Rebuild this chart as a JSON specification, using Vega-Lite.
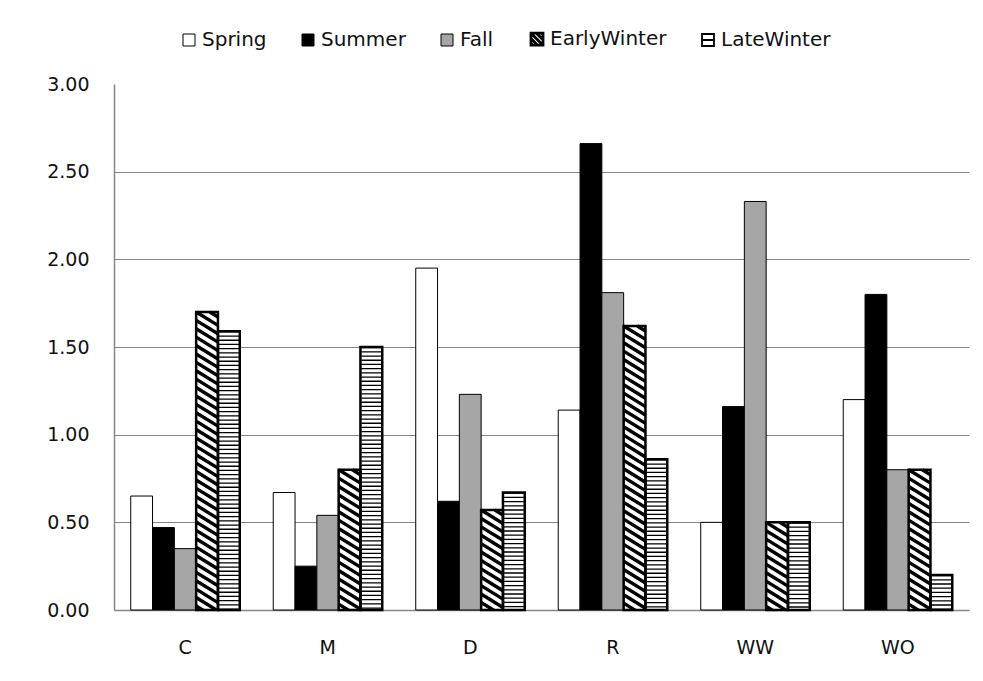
{
  "$schema": "https://vega.github.io/schema/vega-lite/v6.json",
  "width": 855,
  "height": 526,
  "autosize": {"type": "none"},
  "padding": {"left": 114, "top": 84, "right": 14, "bottom": 71},
  "background": "white",
  "data": {
    "values": [
      {"cat": "C", "series": "Spring", "value": 0.65},
      {"cat": "C", "series": "Summer", "value": 0.47},
      {"cat": "C", "series": "Fall", "value": 0.35},
      {"cat": "C", "series": "EarlyWinter", "value": 1.70},
      {"cat": "C", "series": "LateWinter", "value": 1.59},
      {"cat": "M", "series": "Spring", "value": 0.67},
      {"cat": "M", "series": "Summer", "value": 0.25},
      {"cat": "M", "series": "Fall", "value": 0.54},
      {"cat": "M", "series": "EarlyWinter", "value": 0.80},
      {"cat": "M", "series": "LateWinter", "value": 1.50},
      {"cat": "D", "series": "Spring", "value": 1.95},
      {"cat": "D", "series": "Summer", "value": 0.62},
      {"cat": "D", "series": "Fall", "value": 1.23},
      {"cat": "D", "series": "EarlyWinter", "value": 0.57},
      {"cat": "D", "series": "LateWinter", "value": 0.67},
      {"cat": "R", "series": "Spring", "value": 1.14},
      {"cat": "R", "series": "Summer", "value": 2.66},
      {"cat": "R", "series": "Fall", "value": 1.81},
      {"cat": "R", "series": "EarlyWinter", "value": 1.62},
      {"cat": "R", "series": "LateWinter", "value": 0.86},
      {"cat": "WW", "series": "Spring", "value": 0.50},
      {"cat": "WW", "series": "Summer", "value": 1.16},
      {"cat": "WW", "series": "Fall", "value": 2.33},
      {"cat": "WW", "series": "EarlyWinter", "value": 0.50},
      {"cat": "WW", "series": "LateWinter", "value": 0.50},
      {"cat": "WO", "series": "Spring", "value": 1.20},
      {"cat": "WO", "series": "Summer", "value": 1.80},
      {"cat": "WO", "series": "Fall", "value": 0.80},
      {"cat": "WO", "series": "EarlyWinter", "value": 0.80},
      {"cat": "WO", "series": "LateWinter", "value": 0.20}
    ]
  },
  "encoding": {
    "x": {
      "field": "cat",
      "type": "nominal",
      "sort": ["C", "M", "D", "R", "WW", "WO"],
      "scale": {"paddingInner": 0.235, "paddingOuter": 0.1175},
      "axis": {
        "title": null,
        "ticks": false,
        "grid": false,
        "labelAngle": 0,
        "domainColor": "#868686",
        "domainWidth": 1.5,
        "labelFont": "DejaVu Sans",
        "labelFontSize": 19,
        "labelColor": "#111111",
        "labelPadding": 28
      }
    },
    "xOffset": {
      "field": "series",
      "type": "nominal",
      "sort": ["Spring", "Summer", "Fall", "EarlyWinter", "LateWinter"],
      "scale": {
        "domain": ["Spring", "Summer", "Fall", "EarlyWinter", "LateWinter"],
        "paddingInner": 0,
        "paddingOuter": 0
      }
    },
    "y": {
      "field": "value",
      "type": "quantitative",
      "scale": {"domain": [0, 3], "nice": false},
      "axis": {
        "title": null,
        "values": [0, 0.5, 1, 1.5, 2, 2.5, 3],
        "format": ".2f",
        "ticks": false,
        "grid": true,
        "gridColor": {"condition": {"test": "datum.value === 3", "value": "transparent"}, "value": "#868686"},
        "gridWidth": 1,
        "domainColor": "#868686",
        "domainWidth": 1.5,
        "labelFont": "DejaVu Sans",
        "labelFontSize": 19,
        "labelColor": "#111111",
        "labelPadding": 25
      }
    }
  },
  "layer": [
    {
      "mark": {"type": "bar", "stroke": "black", "strokeWidth": 1},
      "encoding": {
        "fill": {
          "field": "series",
          "type": "nominal",
          "sort": ["Spring", "Summer", "Fall", "EarlyWinter", "LateWinter"],
          "scale": {
            "domain": ["Spring", "Summer", "Fall", "EarlyWinter", "LateWinter"],
            "range": ["white", "black", "#a6a6a6", "white", "white"]
          },
          "legend": {
            "orient": "none",
            "legendX": 65,
            "legendY": -55,
            "direction": "horizontal",
            "title": null,
            "padding": 0,
            "symbolType": "square",
            "symbolSize": 144,
            "symbolStrokeColor": "black",
            "symbolStrokeWidth": 1,
            "labelFont": "DejaVu Sans",
            "labelFontSize": 20,
            "labelColor": "#111111",
            "labelOffset": 3,
            "columnPadding": 31,
            "encode": {
              "symbols": {
                "update": {
                  "shape": {"signal": "datum.value === 'EarlyWinter' ? 'M-1,-1H1V1H-1Z M-1,-1L1,1 M-1,-0.1L0.1,1 M-0.1,-1L1,0.1 M-1,0.7L-0.7,1 M0.7,-1L1,-0.7' : datum.value === 'LateWinter' ? 'M-1,-1H1V1H-1Z M-1,0H1' : 'square'"},
                  "stroke": {"value": "black"},
                  "strokeWidth": {"signal": "datum.value === 'EarlyWinter' ? 2.8 : datum.value === 'LateWinter' ? 1.8 : 1"}
                }
              }
            }
          }
        }
      }
    },
    {
      "transform": [{"filter": "datum.series === 'LateWinter'"}],
      "mark": {"type": "rule", "color": "black", "strokeWidth": 20, "strokeDash": [1.3, 2.9], "strokeCap": "butt"},
      "encoding": {"y2": {"datum": 0}}
    },
    {
      "transform": [{"filter": "datum.series === 'EarlyWinter'"}],
      "mark": {
        "type": "point",
        "shape": "M0.325 0L1.3 0.6M-1.3 0L1.3 1.6M-1.3 1L1.3 2.6M-1.3 2L1.3 3.6M-1.3 3L1.3 4.6M-1.3 4L1.3 5.6M-1.3 5L1.3 6.6M-1.3 6L1.3 7.6M-1.3 7L1.3 8.6M-1.3 8L1.3 9.6M-1.3 9L1.3 10.6M-1.3 10L1.3 11.6M-1.3 11L1.3 12.6M-1.3 12L1.3 13.6M-1.3 13L1.3 14.6M-1.3 14L1.3 15.6M-1.3 15L1.3 16.6M-1.3 16L1.3 17.6M-1.3 17L1.3 18.6M-1.3 18L1.3 19.6M-1.3 19L1.3 20.6M-1.3 20L1.3 21.6M-1.3 21L1.3 22.6M-1.3 22L1.3 23.6M-1.3 23L1.3 24.6M-1.3 24L1.3 25.6M-1.3 25L1.3 26.6M-1.3 26L1.3 27.6M-1.3 27L1.3 28.6M-1.3 28L1.3 29.6M-1.3 29L1.3 30.6M-1.3 30L1.3 31.6M-1.3 31L1.3 32.6M-1.3 32L1.3 33.6M-1.3 33L1.3 34.6M-1.3 34L1.3 35.6M-1.3 35L1.3 36.6M-1.3 36L1.3 37.6M-1.3 37L1.3 38.6M-1.3 38L1.3 39.6M-1.3 39L1.3 40.6M-1.3 40L1.3 41.6",
        "size": 282.24,
        "filled": false,
        "stroke": "black",
        "strokeWidth": 3.4,
        "strokeCap": "butt",
        "opacity": 1,
        "clip": true
      }
    },
    {
      "transform": [{"filter": "datum.series === 'EarlyWinter' || datum.series === 'LateWinter'"}],
      "mark": {"type": "bar", "filled": false, "stroke": "black", "strokeWidth": 2.5}
    }
  ],
  "config": {
    "view": {"stroke": null}
  }
}
